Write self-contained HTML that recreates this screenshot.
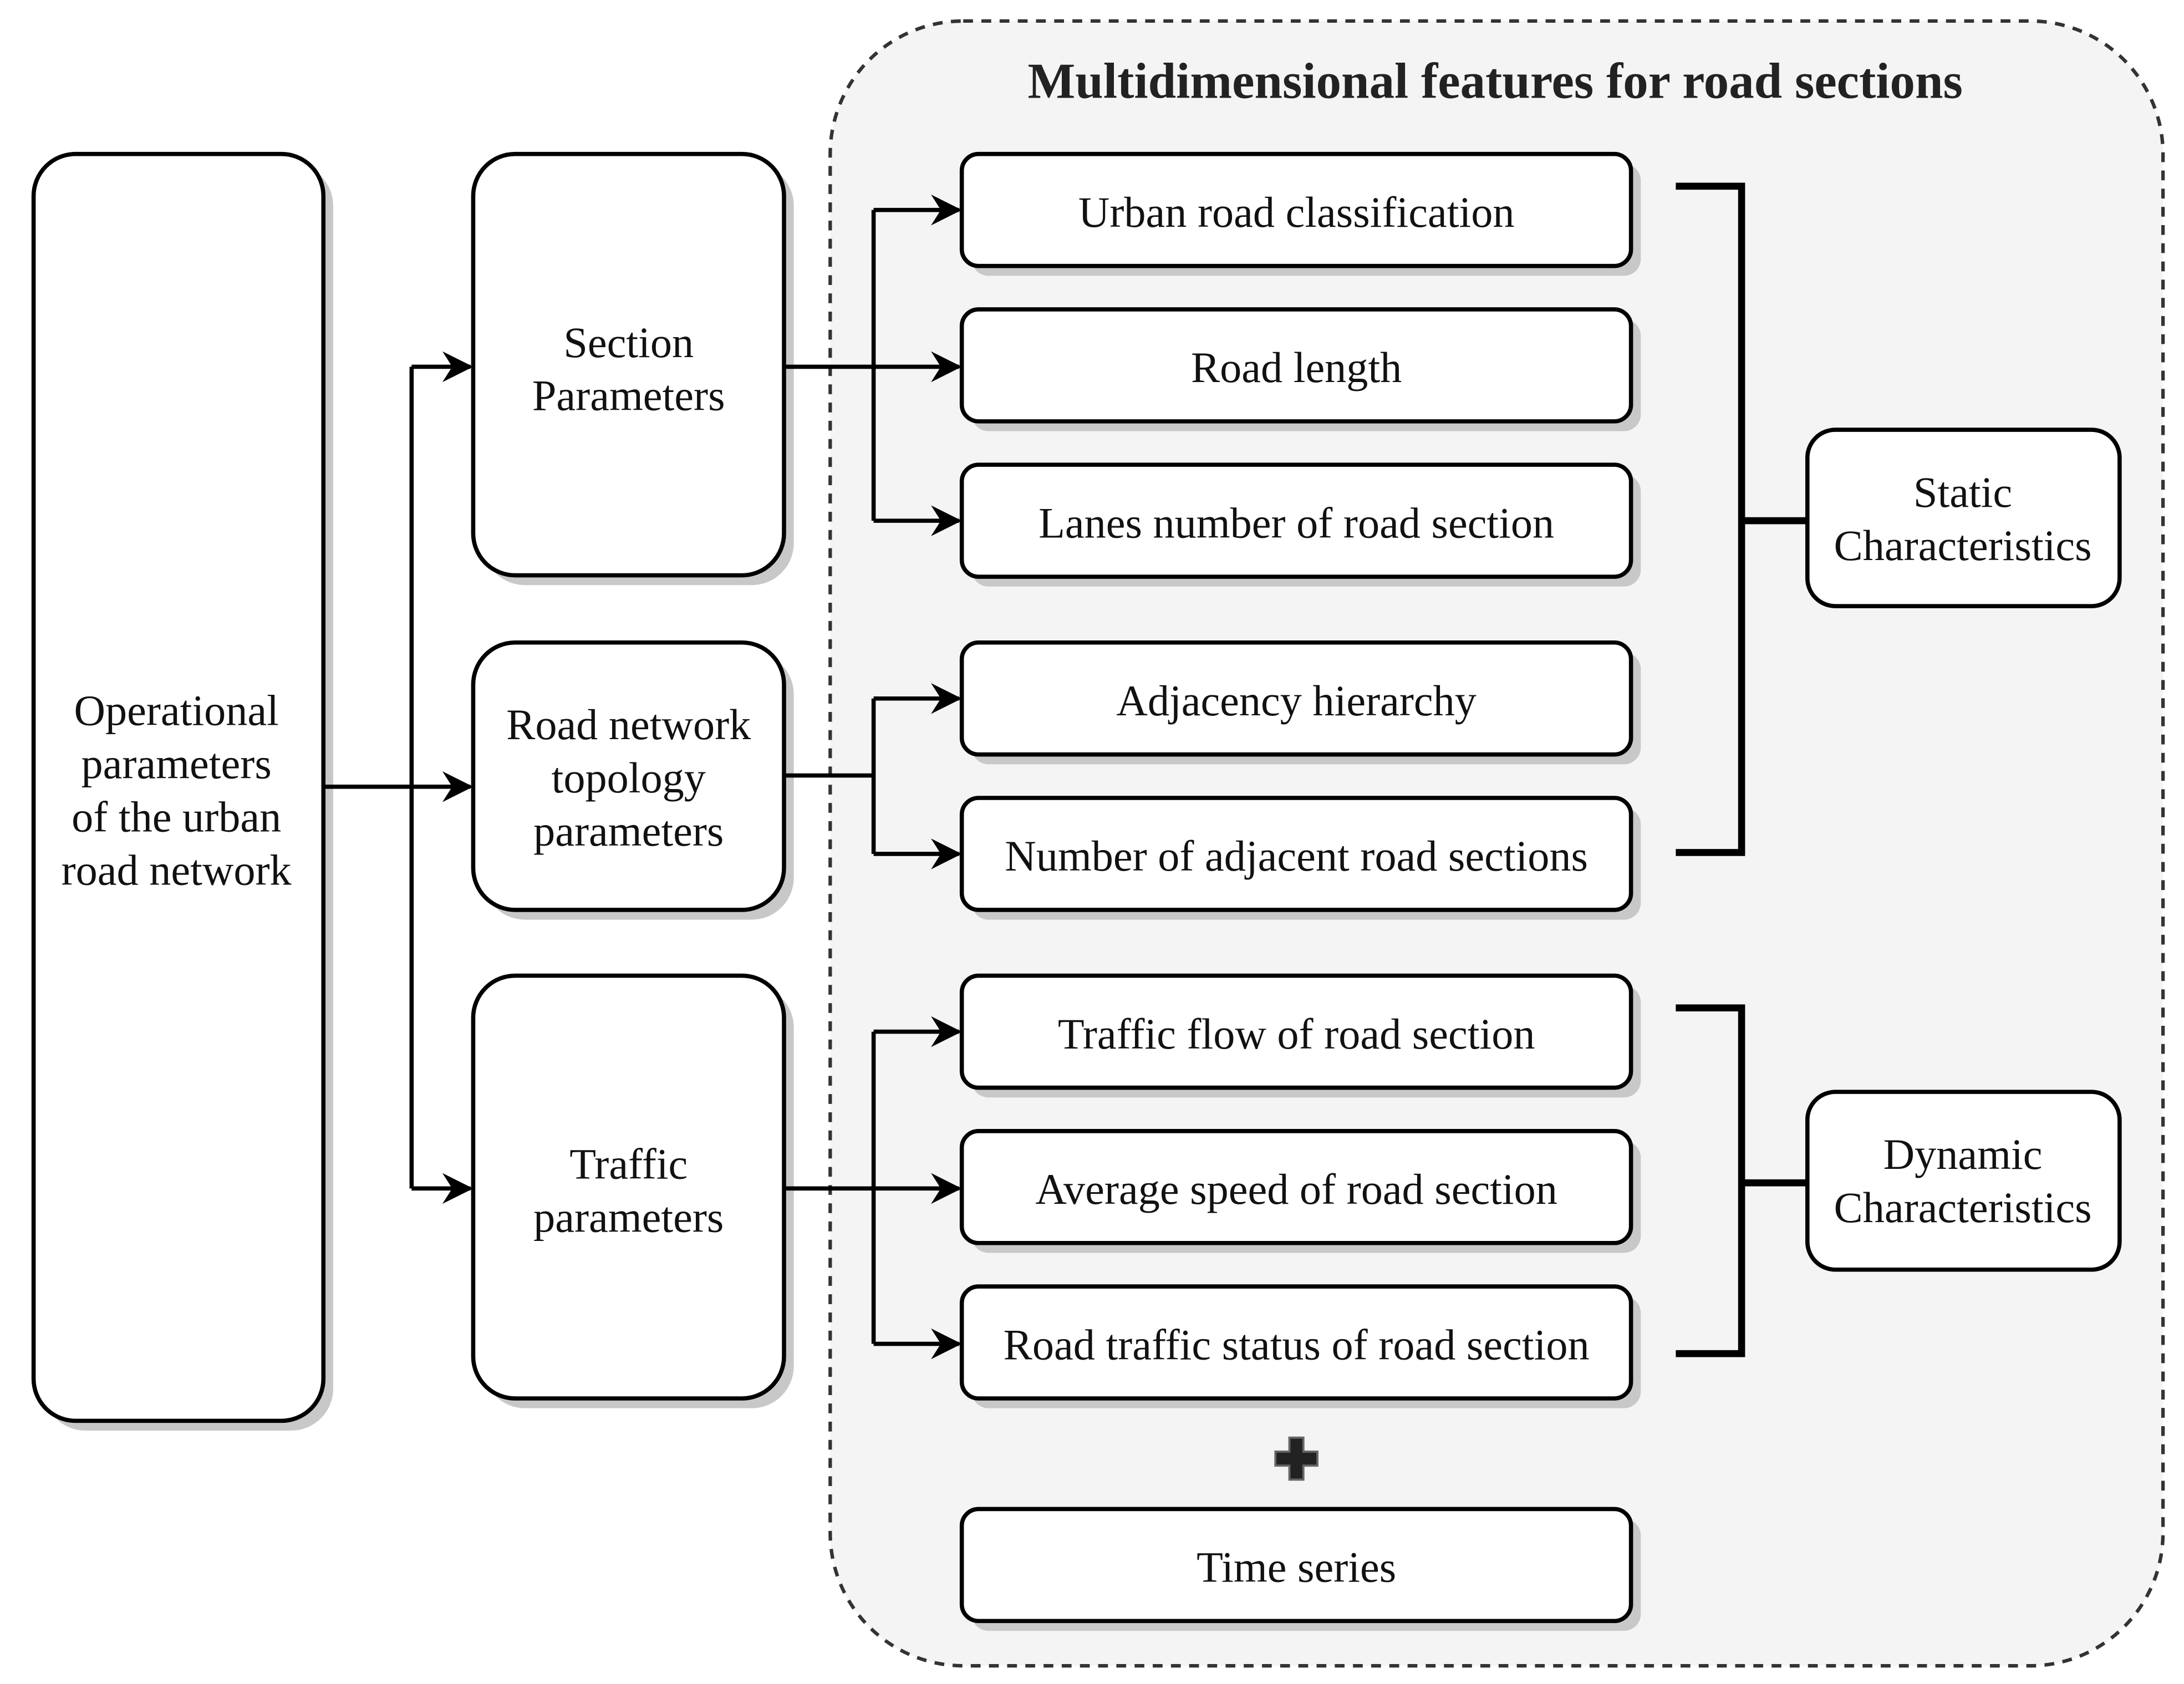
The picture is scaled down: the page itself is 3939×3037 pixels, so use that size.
<!DOCTYPE html>
<html><head><meta charset="utf-8"><style>html,body{margin:0;padding:0;background:#fff}svg{display:block}</style></head>
<body>
<svg width="3939" height="3037" viewBox="0 0 1560 1203" preserveAspectRatio="none" xmlns="http://www.w3.org/2000/svg" font-family="Liberation Serif, serif">
<defs>
<marker id="a" markerWidth="24" markerHeight="24" refX="20" refY="12" orient="auto" markerUnits="userSpaceOnUse">
<path d="M0,1 L22,12 L0,23 L7,12 Z" fill="#000"/>
</marker>
</defs>
<rect x="593" y="15" width="952" height="1175" rx="95" fill="#f4f4f4" stroke="#333" stroke-width="2.5" stroke-dasharray="7,6"/>
<text x="1068" y="70" font-size="36" font-weight="bold" text-anchor="middle" fill="#222">Multidimensional features for road sections</text>
<g fill="#c8c8c8">
<rect x="31" y="117" width="207" height="905" rx="30"/>
<rect x="345" y="117" width="222" height="301" rx="30"/>
<rect x="345" y="466" width="222" height="191" rx="30"/>
<rect x="345" y="704" width="222" height="302" rx="30"/>
<rect x="694" y="117" width="478" height="80" rx="12"/>
<rect x="694" y="228" width="478" height="80" rx="12"/>
<rect x="694" y="339" width="478" height="80" rx="12"/>
<rect x="694" y="466" width="478" height="80" rx="12"/>
<rect x="694" y="577" width="478" height="80" rx="12"/>
<rect x="694" y="704" width="478" height="80" rx="12"/>
<rect x="694" y="815" width="478" height="80" rx="12"/>
<rect x="694" y="926" width="478" height="80" rx="12"/>
<rect x="694" y="1085" width="478" height="80" rx="12"/>
</g>
<g fill="#fff" stroke="#000" stroke-width="3">
<rect x="24" y="110" width="207" height="905" rx="30"/>
<rect x="338" y="110" width="222" height="301" rx="30"/>
<rect x="338" y="459" width="222" height="191" rx="30"/>
<rect x="338" y="697" width="222" height="302" rx="30"/>
<rect x="687" y="110" width="478" height="80" rx="12"/>
<rect x="687" y="221" width="478" height="80" rx="12"/>
<rect x="687" y="332" width="478" height="80" rx="12"/>
<rect x="687" y="459" width="478" height="80" rx="12"/>
<rect x="687" y="570" width="478" height="80" rx="12"/>
<rect x="687" y="697" width="478" height="80" rx="12"/>
<rect x="687" y="808" width="478" height="80" rx="12"/>
<rect x="687" y="919" width="478" height="80" rx="12"/>
<rect x="687" y="1078" width="478" height="80" rx="12"/>
<rect x="1291" y="307" width="223" height="126" rx="20"/>
<rect x="1291" y="780" width="223" height="127" rx="20"/>
</g>
<g fill="none" stroke="#000" stroke-width="3">
<path d="M231,562 H336" marker-end="url(#a)"/>
<path d="M294,262 V849"/>
<path d="M294,262 H336" marker-end="url(#a)"/>
<path d="M294,849 H336" marker-end="url(#a)"/>
<path d="M560,262 H685" marker-end="url(#a)"/>
<path d="M624,150 V372"/>
<path d="M624,150 H685" marker-end="url(#a)"/>
<path d="M624,372 H685" marker-end="url(#a)"/>
<path d="M560,554 H624"/>
<path d="M624,499 V610"/>
<path d="M624,499 H685" marker-end="url(#a)"/>
<path d="M624,610 H685" marker-end="url(#a)"/>
<path d="M560,849 H685" marker-end="url(#a)"/>
<path d="M624,737 V960"/>
<path d="M624,737 H685" marker-end="url(#a)"/>
<path d="M624,960 H685" marker-end="url(#a)"/>
</g>
<g fill="none" stroke="#000" stroke-width="5">
<path d="M1197,133 H1244 V609 H1197"/>
<path d="M1244,372 H1291"/>
<path d="M1197,720 H1244 V967 H1197"/>
<path d="M1244,845 H1291"/>
</g>
<path d="M921,1027 h10 v10 h10 v10 h-10 v10 h-10 v-10 h-10 v-10 h10 z" fill="#222" stroke="#666" stroke-width="1.5"/>
<g font-size="31" text-anchor="middle" fill="#111">
<text x="126" y="518">Operational</text>
<text x="126" y="556">parameters</text>
<text x="126" y="594">of the urban</text>
<text x="126" y="632">road network</text>
<text x="449" y="255">Section</text>
<text x="449" y="293">Parameters</text>
<text x="449" y="528">Road network</text>
<text x="449" y="566">topology</text>
<text x="449" y="604">parameters</text>
<text x="449" y="842">Traffic</text>
<text x="449" y="880">parameters</text>
<text x="926" y="162">Urban road classification</text>
<text x="926" y="273">Road length</text>
<text x="926" y="384">Lanes number of road section</text>
<text x="926" y="511">Adjacency hierarchy</text>
<text x="926" y="622">Number of adjacent road sections</text>
<text x="926" y="749">Traffic flow of road section</text>
<text x="926" y="860">Average speed of road section</text>
<text x="926" y="971">Road traffic status of road section</text>
<text x="926" y="1130">Time series</text>
<text x="1402" y="362">Static</text>
<text x="1402" y="400">Characteristics</text>
<text x="1402" y="835">Dynamic</text>
<text x="1402" y="873">Characteristics</text>
</g>
</svg>
</body></html>
